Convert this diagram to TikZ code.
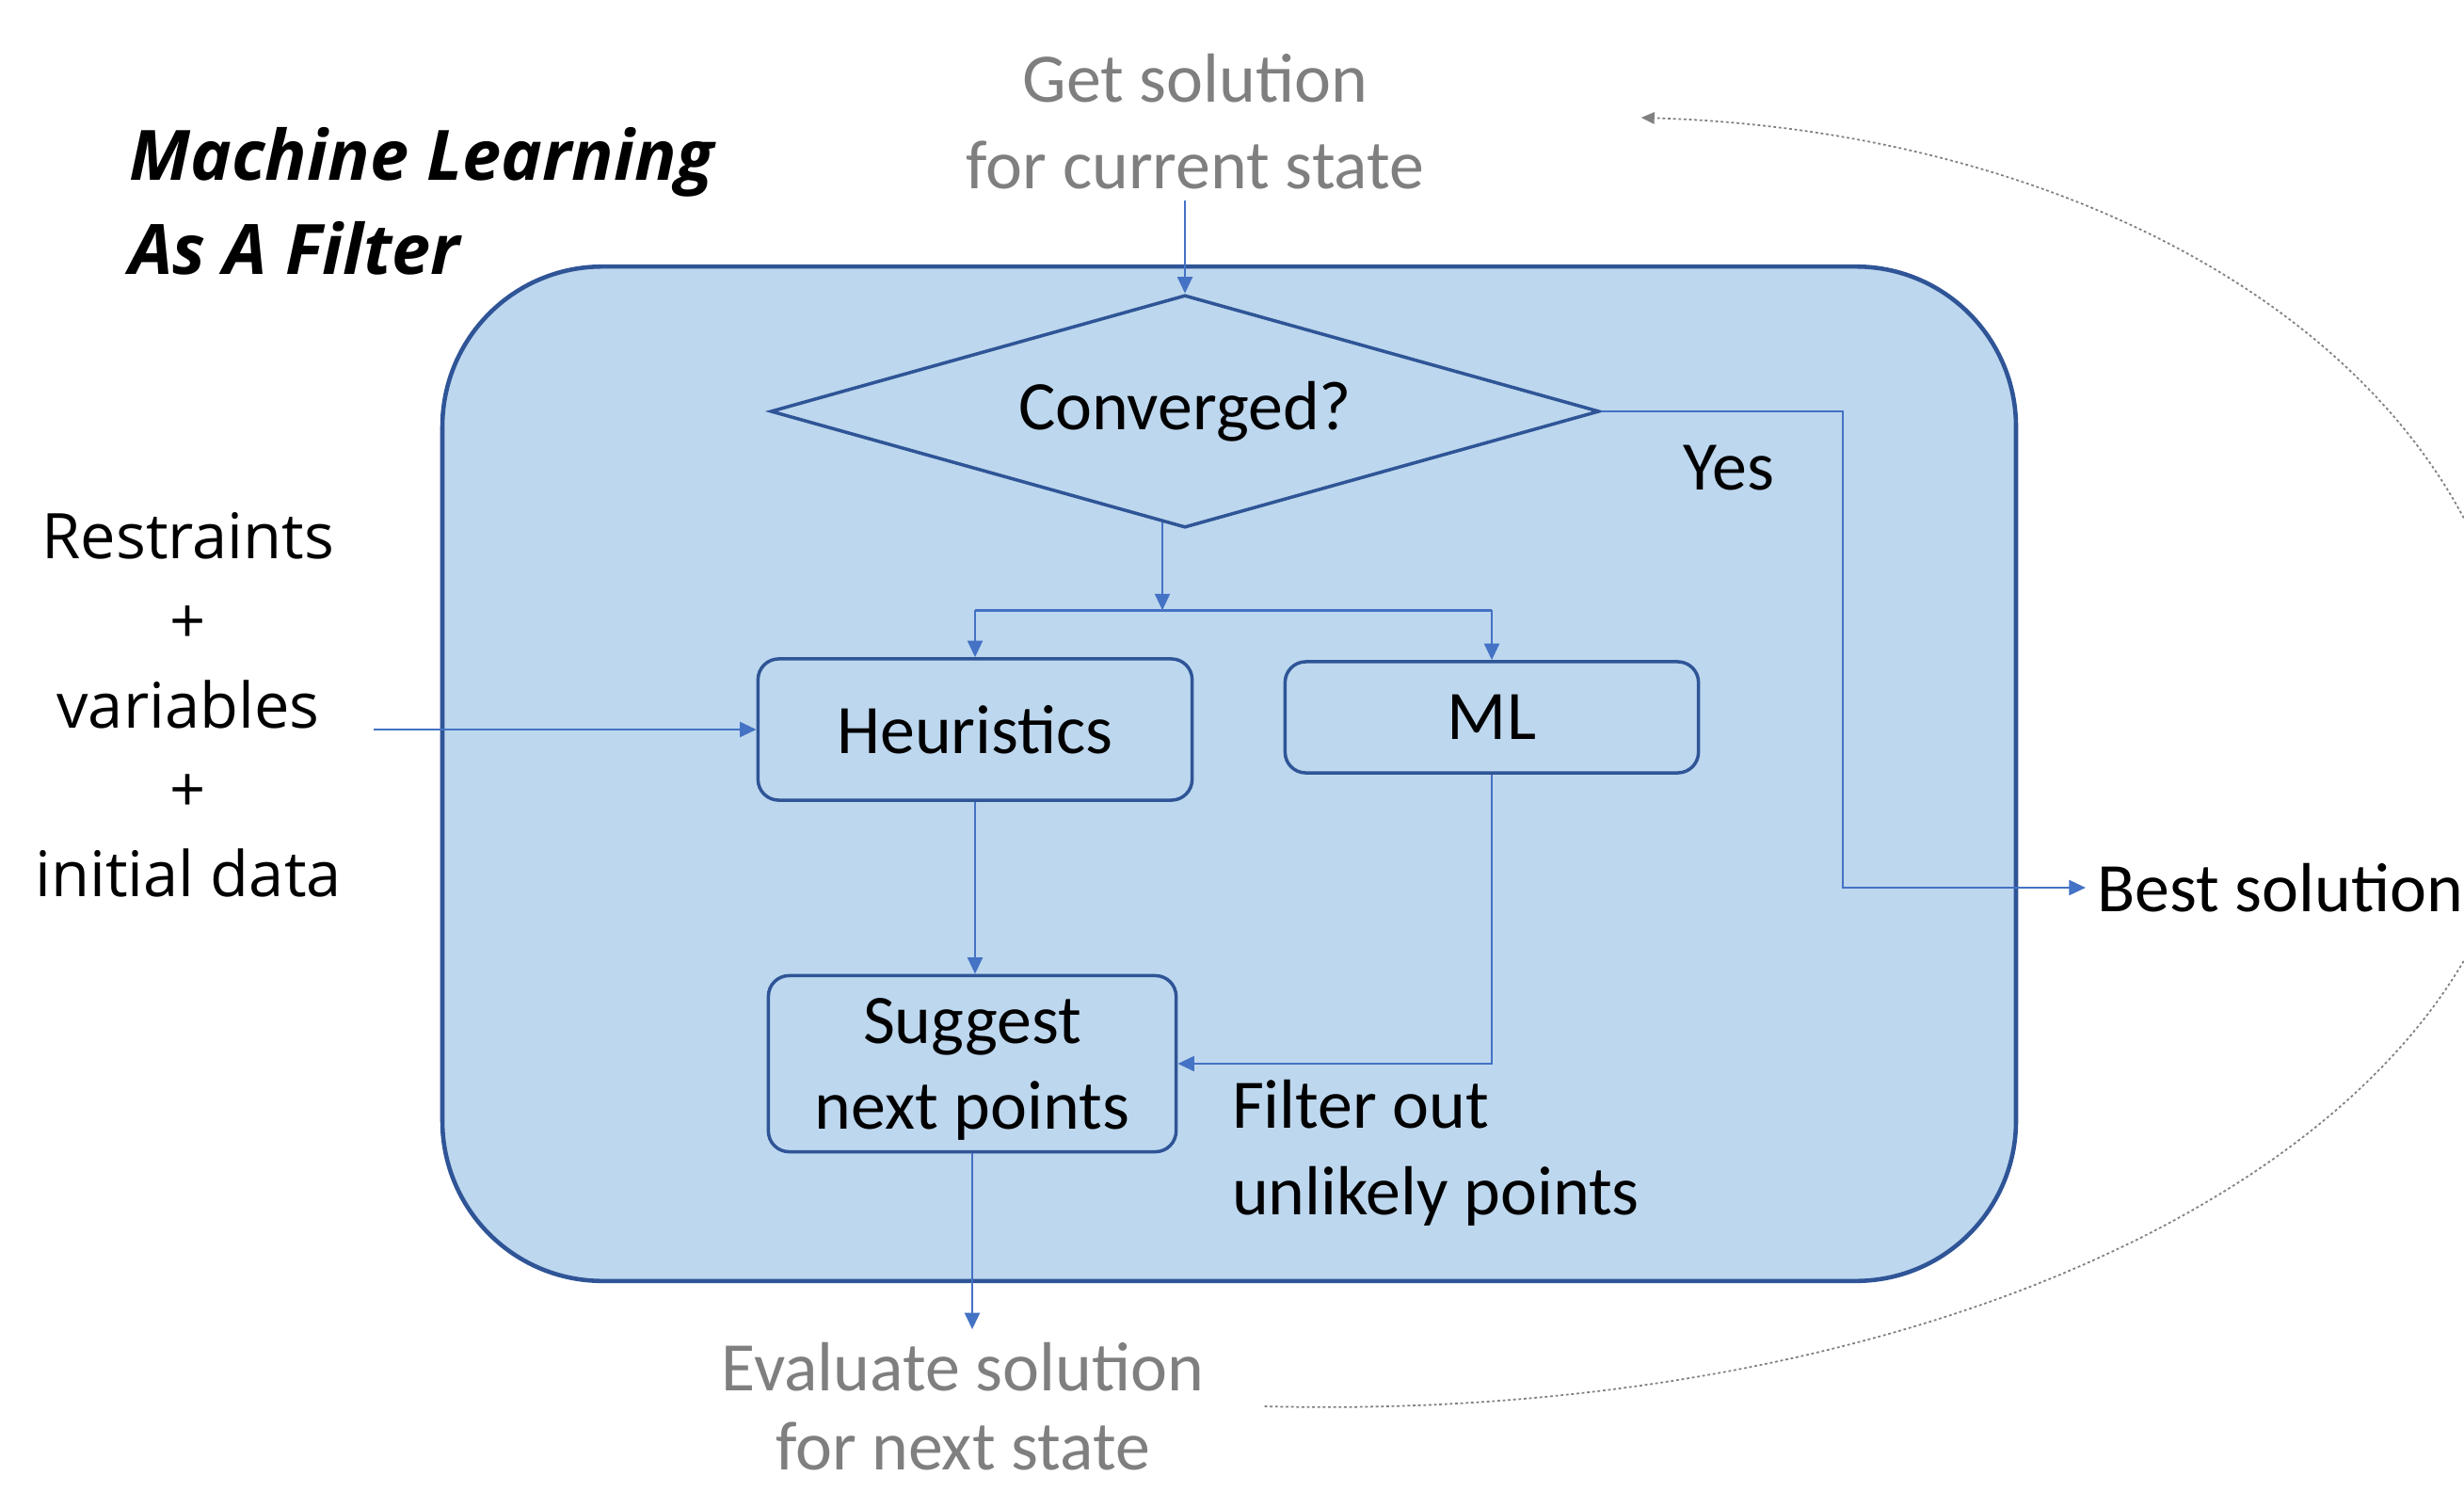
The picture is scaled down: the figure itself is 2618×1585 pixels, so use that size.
\documentclass[tikz,border=0pt]{standalone}
\usepackage{fontspec}
\setmainfont{Carlito}
\newfontfamily\opensans{Open Sans}
\usetikzlibrary{shapes.geometric,arrows.meta,calc,positioning}
\definecolor{fillblue}{HTML}{BDD7EE}
\definecolor{darkblue}{HTML}{2F5597}
\definecolor{lineblue}{HTML}{4472C4}
\definecolor{textgray}{HTML}{7F7F7F}

\begin{document}
\begin{tikzpicture}[x=0.01cm,y=-0.01cm,>={Triangle[length=5pt,width=4.5pt]},
    every node/.style={font=\fontsize{21}{26}\selectfont},
    outer box/.style={rectangle,rounded corners=1.7cm,draw=darkblue,fill=fillblue,line width=1.3pt,minimum width=16.71cm,minimum height=10.77cm},
    decision/.style={diamond,aspect=3.56,draw=darkblue,line width=1pt,minimum width=8.8cm,minimum height=2.47cm,inner sep=0pt},
    main node/.style={rectangle,rounded corners=0.22cm,draw=darkblue,line width=1pt},
    gray text/.style={text=textgray,align=center},
    flow/.style={->,color=lineblue,line width=0.8pt},
    dotted back/.style={-{Triangle[length=4pt,width=3.5pt]},draw=gray,line width=0.5pt,dash pattern=on 0.8pt off 0.8pt}]

    \useasboundingbox (0,0) rectangle (2618,1585);

    \node (0) at (1306,822) [outer box]{};
    \node (1) at (1259,437) [decision]{Converged?};

    \node (2) at ($(1)+(-223,338)$) [main node, minimum width=4.61cm, minimum height=1.5cm]{Heuristics};
    \node (3) at ($(1)+(326,325)$) [main node, minimum width=4.39cm, minimum height=1.18cm]{ML};
    \node (4) at ($(2)+(-3,355)$) [main node, minimum width=4.33cm, minimum height=1.87cm, align=center, text depth=0pt]{Suggest\\next points};

    \node (5) at ($(1)+(11,-308)$) [gray text]{Get solution\\for current state};
    \node (6) at ($(4)+(-10,364)$) [gray text, inner ysep=0pt, font=\fontsize{21}{24}\selectfont]{Evaluate solution\\for next state};

    \node (7) at (125,214) [anchor=west, align=left, font=\opensans\bfseries\itshape\fontsize{21}{28.5}\selectfont]{Machine Learning\\As A Filter};
    \node (8) at (200,749) [align=center, font=\opensans\fontsize{19}{25.5}\selectfont]{Restraints\\+\\variables\\+\\initial data};

    \node (9) at ($(1)+(578,60)$) {Yes};
    \node (10) at (2216,943) [anchor=west]{Best solution};
    \node (11) at ($(3.south west)+(-67,402)$) [anchor=west, align=left]{Filter out\\unlikely points};

    \coordinate (12) at ($(1.south)+(-24,86)$);
    \coordinate (13) at ($(1.east)+(257,0)$);
    \coordinate (14) at ($(6.east)+(52,0)$);
    \coordinate (15) at ($(5.east)+(218,-4)$);

    \draw[flow] (5.south -| 1.north) -- (1.north);
    \draw[flow] ($(1.south)+(-24,-7)$) -- (12);
    \draw[lineblue, line width=0.8pt] (12 -| 2.north) -- (12 -| 3.north);
    \path[flow]
        (12 -| 2.north) edge (2.north)
        (12 -| 3.north) edge (3.north)
        ($(8.east |- 2.west)+(22,0)$) edge (2.west)
        (2.south) edge (2.south |- 4.north)
        (4.south) edge ($(4.south |- 6.north)+(0,-13)$)
    ;
    \draw[flow] (3.south) |- (4.east);
    \draw[flow] (1.east) -- (13) |- (10.west);

    \draw[dotted back] (14) .. controls (2100,1513) and (2680,1200) .. (2680,800) .. controls (2680,400) and (2250,140) .. (15);
\end{tikzpicture}
\end{document}
